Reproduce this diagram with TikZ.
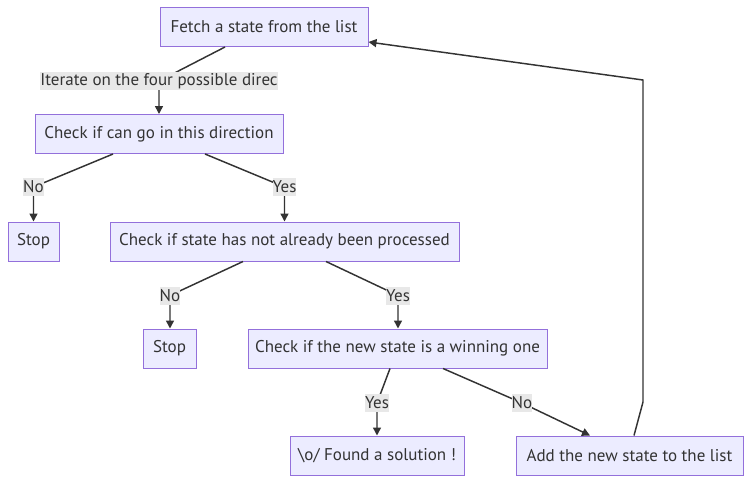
\documentclass[tikz,border=0pt]{standalone}
\usepackage{fontspec}
\setmainfont{PT Sans}
\usetikzlibrary{arrows.meta,calc}
\definecolor{nodefill}{HTML}{ECECFF}
\definecolor{nodeline}{HTML}{9370DB}
\definecolor{edgecol}{HTML}{333333}
\definecolor{labelbg}{HTML}{E8E8E8}
\definecolor{txt}{HTML}{333333}
\begin{document}
\begin{tikzpicture}[x=0.75pt,y=-0.75pt,
  box/.style={draw=nodeline, fill=nodefill, line width=0.75pt, minimum height=29.25pt,
    inner sep=0pt, text=txt, font=\fontsize{12.75}{15}\selectfont},
  elabel/.style={fill=labelbg, inner xsep=0pt, inner ysep=0pt, minimum height=13.5pt,
    text=txt, font=\fontsize{12.75}{15}\selectfont},
  conn/.style={draw=edgecol, line width=1.1pt, -{Triangle[length=6pt,width=6pt]}}]
\useasboundingbox (0,0) rectangle (750,483);
% nodes
\node[box, minimum width=156pt]    (fetch)  at (264,27)    {Fetch a state from the list};
\node[box, minimum width=186pt]    (check1) at (159,134)   {Check if can go in this direction};
\node[box, minimum width=38.25pt]  (stop1)  at (33.5,241.5) {Stop};
\node[box, minimum width=261.75pt] (check2) at (284.5,241.5) {Check if state has not already been processed};
\node[box, minimum width=39.75pt]  (stop2)  at (169.5,348.5) {Stop};
\node[box, minimum width=224.25pt] (check3) at (397.5,348.5) {Check if the new state is a winning one};
\node[box, minimum width=130.5pt]  (found)  at (377,455.5) {\textbackslash o/ Found a solution !};
\node[box, minimum width=170.25pt] (add)    at (629.5,455.5) {Add the new state to the list};
% label positions
\coordinate (p1) at (159,81);
\coordinate (p2) at (33.5,187);
\coordinate (p3) at (284.5,187);
\coordinate (p4) at (170,295.5);
\coordinate (p5) at (398,295.5);
\coordinate (p6) at (377,403);
\coordinate (p7) at (522,403);
\coordinate (b1) at (643,402);
\coordinate (b2) at (643,80);
% connectors
\draw[conn] ($(fetch.south)+(-39,0)$) -- (p1) -- (p1 |- check1.north);
\draw[conn] ($(check1.south)+(-46,0)$) -- (p2) -- (p2 |- stop1.north);
\draw[conn] ($(check1.south)+(46,0)$) -- (p3) -- (p3 |- check2.north);
\draw[conn] ($(check2.south)+(-41.5,0)$) -- (p4) -- (p4 |- stop2.north);
\draw[conn] ($(check2.south)+(41.5,0)$) -- (p5) -- (p5 |- check3.north);
\draw[conn] ($(check3.south)+(-7.5,0)$) -- (p6) -- (p6 |- found.north);
\draw[conn] ($(check3.south)+(45.5,0)$) -- (p7) -- ($(add.north)+(-39.5,0)$);
\draw[conn] ($(add.north)+(4.5,0)$) -- (b1) -- (b2) -- ($(fetch.south east)+(0,-5)$);
% edge labels
\node[elabel] (l1) at (p1) {Iterate on the four possible direc};
\node[elabel] (l2) at (p2) {No};
\node[elabel] (l3) at (p3) {Yes};
\node[elabel] (l4) at (p4) {No};
\node[elabel] (l5) at (p5) {Yes};
\node[elabel] (l6) at (p6) {Yes};
\node[elabel] (l7) at (p7) {No};
\end{tikzpicture}
\end{document}
